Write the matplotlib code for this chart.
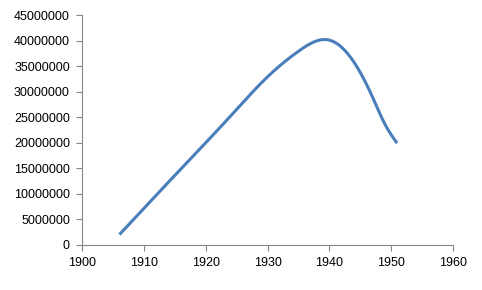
import numpy as np
import matplotlib
matplotlib.use("Agg")
import matplotlib.pyplot as plt

# values (smoothed line chart)
years = [1906, 1916, 1924, 1930, 1935, 1940, 1944, 1947, 1949, 1951]
values = [2000000, 14900000, 25200000, 32900000, 37900000, 40100000,
          35800000, 29000000, 23700000, 19900000]

x_ticks = [1900, 1910, 1920, 1930, 1940, 1950, 1960]
y_ticks = list(range(0, 45000001, 5000000))

LINE = "#4a7ebb"
AXIS = "#868686"


def smooth_line(xs, ys, n=400):
    """Natural cubic spline through the points, to mimic a 'smoothed line'."""
    x = np.asarray(xs, float)
    y = np.asarray(ys, float)
    k = len(x)
    h = np.diff(x)
    A = np.zeros((k, k))
    b = np.zeros(k)
    A[0, 0] = A[-1, -1] = 1.0
    for i in range(1, k - 1):
        A[i, i - 1] = h[i - 1]
        A[i, i] = 2 * (h[i - 1] + h[i])
        A[i, i + 1] = h[i]
        b[i] = 6 * ((y[i + 1] - y[i]) / h[i] - (y[i] - y[i - 1]) / h[i - 1])
    m = np.linalg.solve(A, b)
    xx = np.linspace(x[0], x[-1], n)
    j = np.clip(np.searchsorted(x, xx) - 1, 0, k - 2)
    t0 = x[j + 1] - xx
    t1 = xx - x[j]
    hj = h[j]
    yy = (m[j] * t0 ** 3 + m[j + 1] * t1 ** 3) / (6 * hj) \
        + (y[j] / hj - m[j] * hj / 6) * t0 + (y[j + 1] / hj - m[j + 1] * hj / 6) * t1
    return xx, yy


plt.rcParams["font.family"] = ["Liberation Sans", "DejaVu Sans"]

fig = plt.figure(figsize=(4.82, 2.90), dpi=100)
ax = fig.add_axes([0.171, 0.156, 0.768, 0.792])

sx, sy = smooth_line(years, values)
ax.plot(sx, sy, color=LINE, lw=2.2, solid_capstyle="butt")

ax.set_xlim(1900, 1960)
ax.set_ylim(0, 45000000)
ax.set_xticks(x_ticks)
ax.set_yticks(y_ticks)
ax.set_yticklabels([str(v) for v in y_ticks])
ax.tick_params(axis="both", direction="out", length=4, width=0.8,
               color=AXIS, labelsize=9, labelcolor="black", pad=5)
ax.spines[["top", "right"]].set_visible(False)
for s in ["left", "bottom"]:
    ax.spines[s].set_color(AXIS)
    ax.spines[s].set_linewidth(0.8)

fig.savefig("out.png", dpi=100)
